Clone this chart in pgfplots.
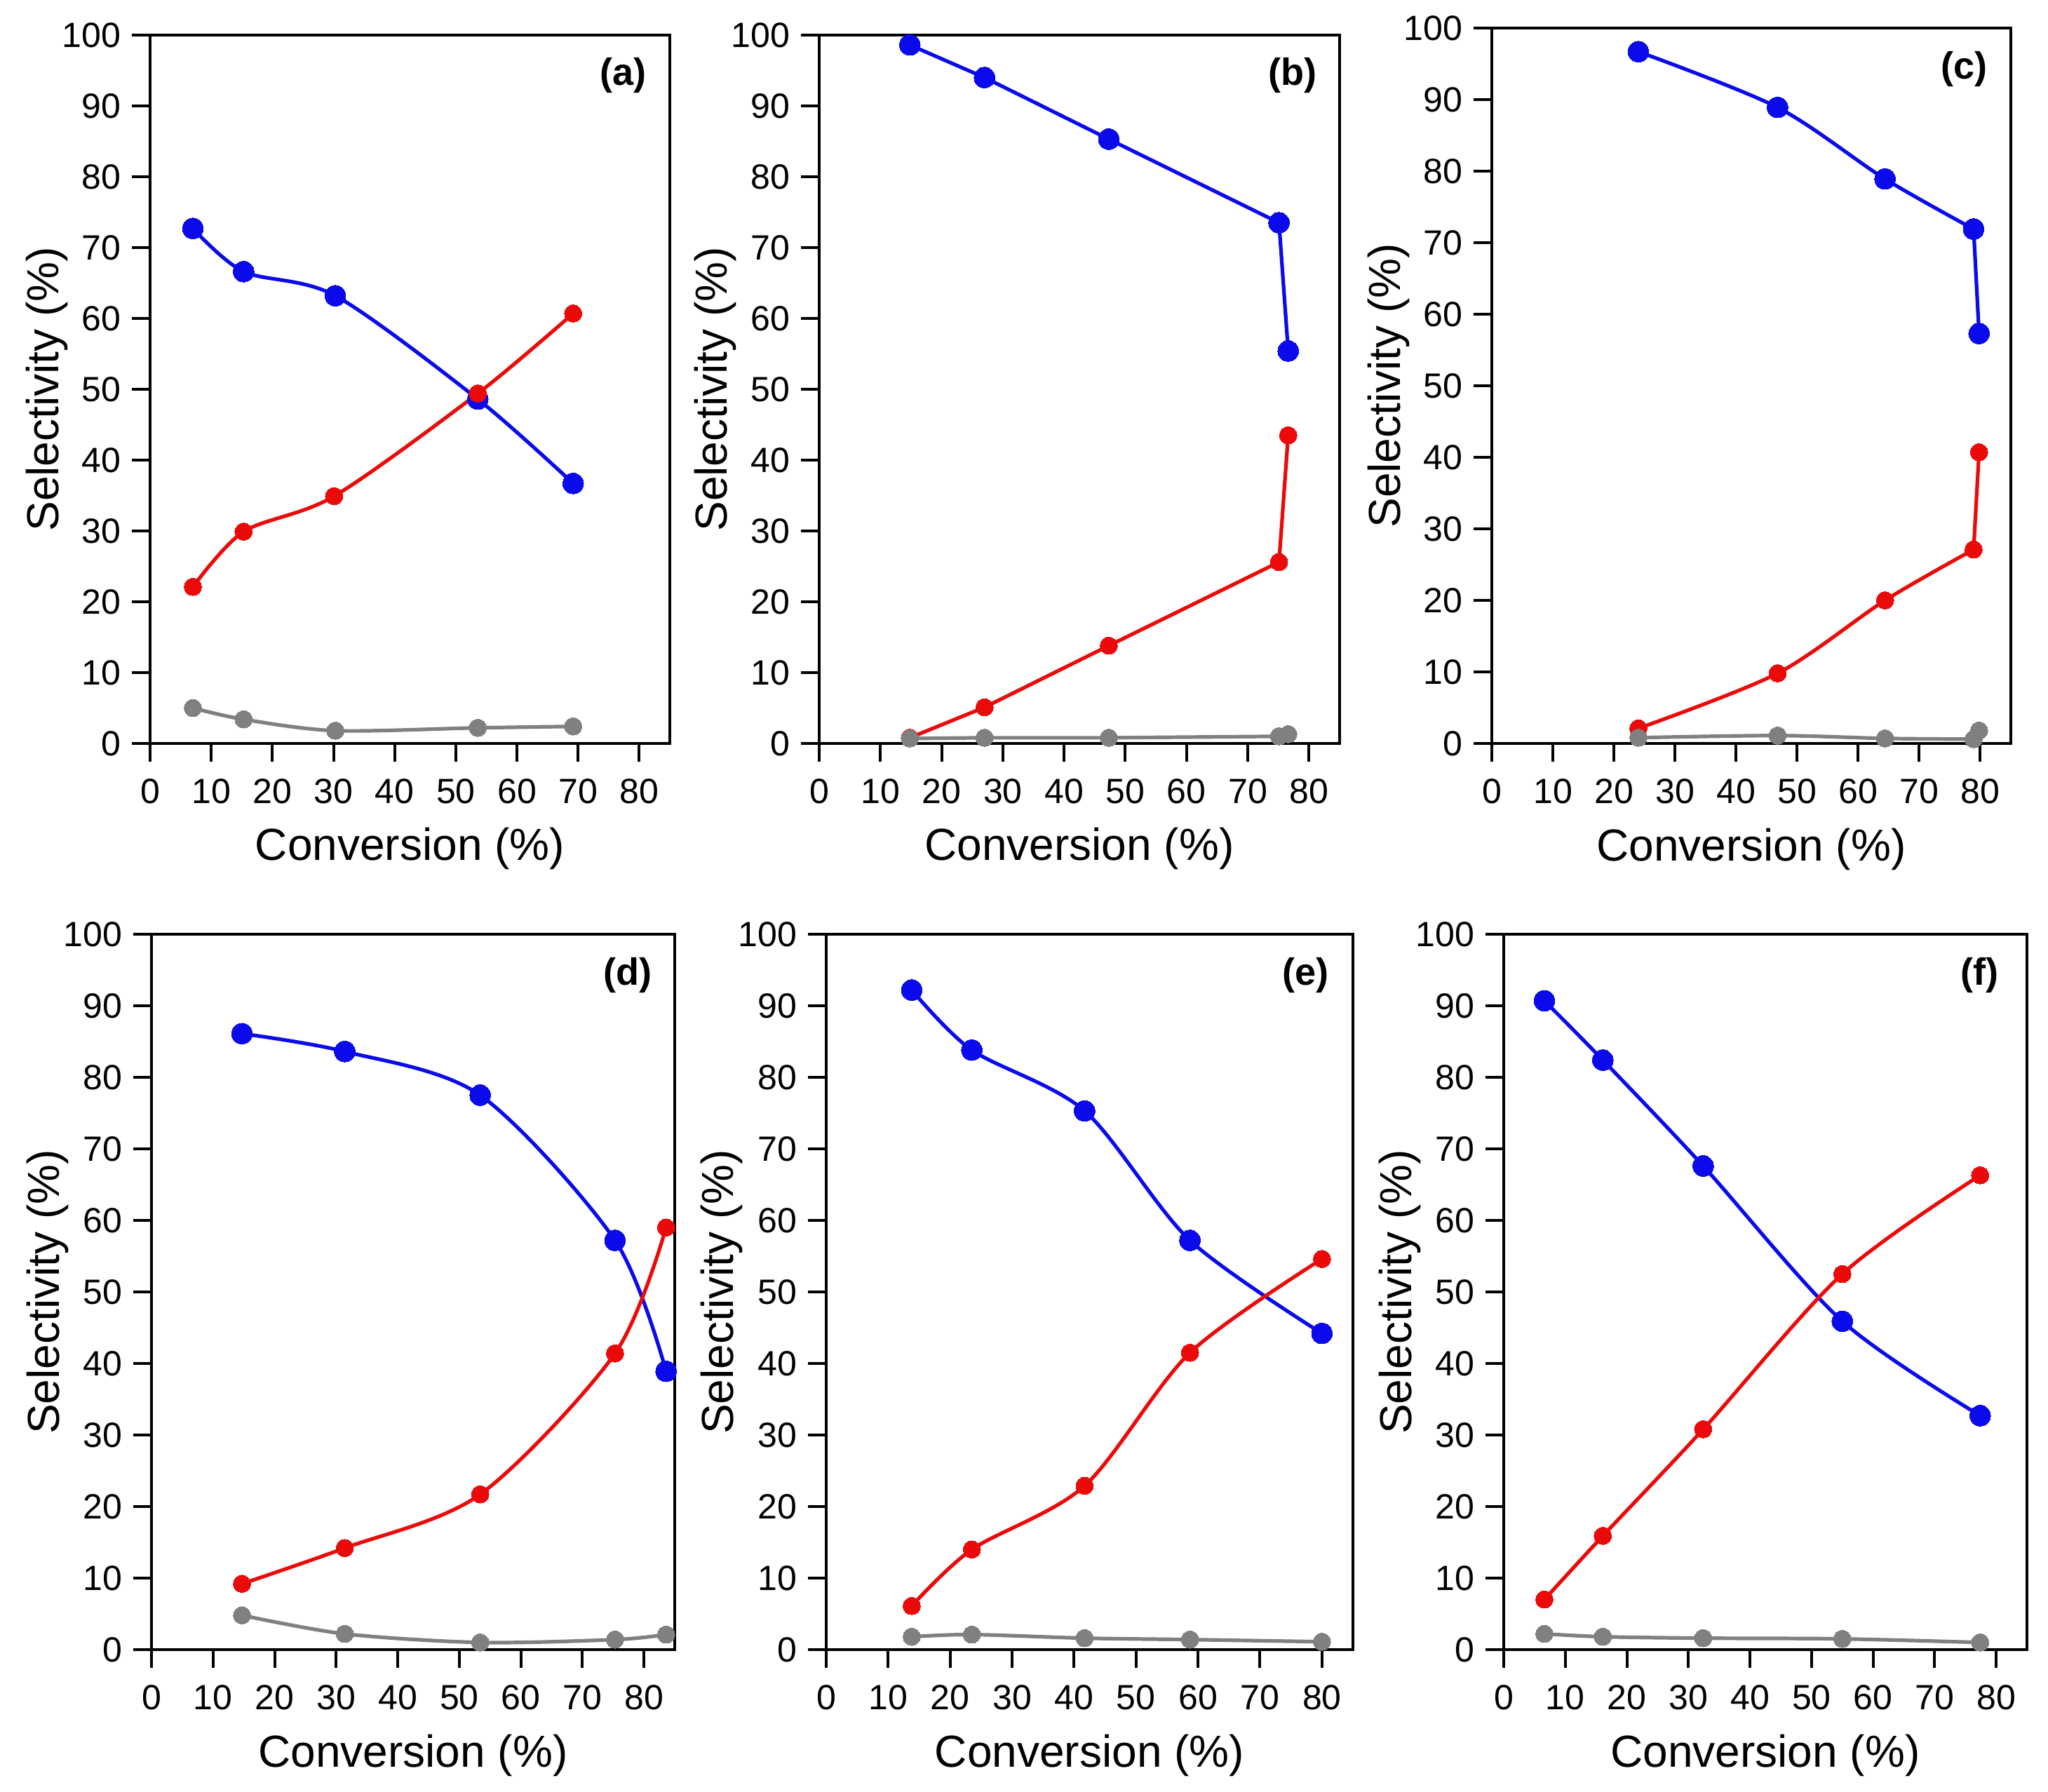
\documentclass[border=0pt]{standalone}
\usepackage{fontspec}
\setmainfont{Liberation Sans}
\usepackage{pgfplots}
\pgfplotsset{compat=1.18}

\definecolor{cblue}{RGB}{10,10,235}
\definecolor{cred}{RGB}{235,10,10}
\definecolor{cgray}{RGB}{128,128,128}

\pgfplotsset{
  panel/.style={
    scale only axis,
    xmin=0, xmax=85, ymin=0, ymax=100,
    xtick={0,10,...,80}, ytick={0,10,...,100},
    xtick pos=bottom, ytick pos=left,
    tick align=outside,
    major tick length=6.5pt,
    every tick/.style={black, line width=1pt},
    axis line style={line width=1pt},
    /pgf/number format/assume math mode=true,
    tick label style={font=\fontsize{12.5}{14}\selectfont},
    xticklabel shift=2.5pt, yticklabel shift=0.5pt,
    xlabel={Conversion (\%)}, ylabel={Selectivity (\%)},
    label style={font=\fontsize{16}{19}\selectfont},
    xlabel style={at={(axis description cs:0.5,-0.148)}, anchor=center},
    ylabel style={at={(axis description cs:-0.199,0.5)}, anchor=center},
    clip=false,
  },
  sb/.style={cblue, line width=1.3pt, mark=*, mark size=3.7pt, mark options={solid, fill=cblue, draw=cblue, line width=0pt}},
  sr/.style={cred, line width=1.3pt, mark=*, mark size=3.1pt, mark options={solid, fill=cred, draw=cred, line width=0pt}},
  sg/.style={cgray, line width=1.3pt, mark=*, mark size=3.1pt, mark options={solid, fill=cgray, draw=cgray, line width=0pt}},
}
\newcommand{\plabel}[1]{\node[font=\bfseries\fontsize{13.5}{16}\selectfont] at (axis description cs:0.91,0.943) {#1};}

\begin{document}
\begin{tikzpicture}
\path[use as bounding box] (0,0) rectangle (730pt,638.75pt);

% (a)
\begin{axis}[panel, at={(53.5pt,373.75pt)}, anchor=south west, width=185.25pt, height=252.5pt]
\addplot[sb, smooth] coordinates {(7.0,72.7) (15.3,66.6) (30.3,63.2) (53.6,48.6) (69.2,36.7)};
\addplot[sr, smooth] coordinates {(7.0,22.1) (15.3,29.9) (30.1,34.9) (53.6,49.4) (69.2,60.7)};
\addplot[sg, smooth] coordinates {(7.0,5.0) (15.3,3.4) (30.3,1.8) (53.6,2.2) (69.2,2.4)};
\plabel{(a)}
\end{axis}

% (b)
\begin{axis}[panel, at={(292pt,373.75pt)}, anchor=south west, width=185.5pt, height=252.5pt]
\addplot[sb] coordinates {(14.8,98.6) (27.0,94.0) (47.3,85.3) (75.1,73.5) (76.6,55.4)};
\addplot[sr] coordinates {(14.8,0.8) (27.0,5.1) (47.3,13.8) (75.1,25.6) (76.6,43.5)};
\addplot[sg] coordinates {(14.8,0.7) (27.0,0.8) (47.3,0.8) (75.1,1.0) (76.6,1.3)};
\plabel{(b)}
\end{axis}

% (c): smooth up to 79 %, then a straight last step
\begin{axis}[panel, at={(531.75pt,373.75pt)}, anchor=south west, width=185pt, height=255pt]
\addplot[sb, smooth] coordinates {(24.0,96.7) (46.8,88.9) (64.4,78.9) (78.9,71.9)};
\addplot[sb] coordinates {(78.9,71.9) (79.8,57.3)};
\addplot[sr, smooth] coordinates {(24.0,2.1) (46.8,9.8) (64.4,20.0) (78.9,27.1)};
\addplot[sr] coordinates {(78.9,27.1) (79.8,40.7)};
\addplot[sg, smooth] coordinates {(24.0,0.8) (46.8,1.1) (64.4,0.7) (78.9,0.6)};
\addplot[sg] coordinates {(78.9,0.6) (79.8,1.8)};
\plabel{(c)}
\end{axis}

% (d)
\begin{axis}[panel, at={(54pt,50.75pt)}, anchor=south west, width=186.5pt, height=255pt]
\addplot[sb, smooth] coordinates {(14.7,86.1) (31.4,83.6) (53.4,77.5) (75.3,57.2) (83.6,38.9)};
\addplot[sr, smooth] coordinates {(14.7,9.2) (31.4,14.2) (53.4,21.7) (75.3,41.4) (83.6,59.0)};
\addplot[sg, smooth] coordinates {(14.7,4.8) (31.4,2.2) (53.4,1.0) (75.3,1.4) (83.6,2.1)};
\plabel{(d)}
\end{axis}

% (e)
\begin{axis}[panel, at={(294.5pt,50.75pt)}, anchor=south west, width=187.75pt, height=255pt]
\addplot[sb, smooth] coordinates {(13.8,92.2) (23.5,83.8) (41.7,75.3) (58.7,57.2) (80.0,44.2)};
\addplot[sr, smooth] coordinates {(13.8,6.1) (23.5,14.0) (41.7,22.9) (58.7,41.5) (80.0,54.6)};
\addplot[sg, smooth] coordinates {(13.8,1.8) (23.5,2.1) (41.7,1.6) (58.7,1.4) (80.0,1.1)};
\plabel{(e)}
\end{axis}

% (f)
\begin{axis}[panel, at={(536pt,50.75pt)}, anchor=south west, width=186.5pt, height=255pt]
\addplot[sb, smooth] coordinates {(6.6,90.7) (16.1,82.4) (32.4,67.6) (55.0,45.9) (77.4,32.7)};
\addplot[sr, smooth] coordinates {(6.6,7.0) (16.1,15.9) (32.4,30.8) (55.0,52.5) (77.4,66.3)};
\addplot[sg, smooth] coordinates {(6.6,2.2) (16.1,1.8) (32.4,1.6) (55.0,1.5) (77.4,1.0)};
\plabel{(f)}
\end{axis}
\end{tikzpicture}
\end{document}
